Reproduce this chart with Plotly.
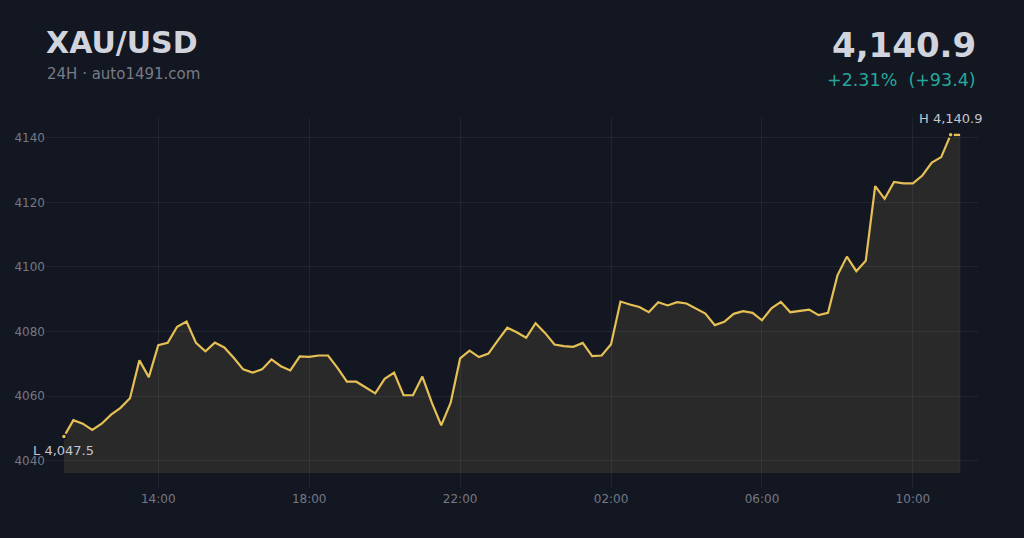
import pandas as pd
import plotly.graph_objects as go

# ---- data ----
SYMBOL = "XAU/USD"
SUBTITLE = "24H \u00b7 auto1491.com"
START_TIME = "2025-10-20 11:30"
STEP = "15min"
PRICES = [
    4047.5, 4052.6, 4051.5, 4049.6, 4051.5, 4054.3, 4056.4, 4059.4, 4071.1, 4065.9,
    4075.8, 4076.5, 4081.5, 4083.1, 4076.5, 4073.9, 4076.6, 4075.1, 4071.9, 4068.3,
    4067.3, 4068.3, 4071.4, 4069.3, 4068.0, 4072.3, 4072.2, 4072.6, 4072.6, 4068.8,
    4064.5, 4064.5, 4062.7, 4060.9, 4065.4, 4067.3, 4060.3, 4060.3, 4066.1, 4058.0,
    4051.0, 4058.0, 4071.7, 4074.1, 4072.1, 4073.2, 4077.3, 4081.2, 4079.8, 4078.1,
    4082.6, 4079.6, 4076.0, 4075.5, 4075.3, 4076.5, 4072.4, 4072.6, 4076.1, 4089.3,
    4088.4, 4087.6, 4086.0, 4089.1, 4088.1, 4089.1, 4088.7, 4087.2, 4085.6, 4082.0,
    4083.0, 4085.5, 4086.3, 4085.8, 4083.5, 4087.2, 4089.2, 4086.0, 4086.3, 4086.8,
    4085.1, 4085.8, 4097.4, 4103.2, 4098.7, 4101.9, 4125.0, 4121.1, 4126.3, 4125.9,
    4125.9, 4128.3, 4132.3, 4134.0, 4140.9, 4140.9,
]
FILL_BASE = 4036.3
Y_RANGE = [4031.6, 4146.1]
Y_TICKS = [4040, 4060, 4080, 4100, 4120, 4140]

# ---- derived ----
times = pd.date_range(START_TIME, periods=len(PRICES), freq=STEP)
last = PRICES[-1]
first = PRICES[0]
chg = last - first
pct = chg / first * 100
lo_i = min(range(len(PRICES)), key=lambda i: PRICES[i])
hi_i = max(range(len(PRICES)), key=lambda i: PRICES[i])
span = times[-1] - times[0]
x_range = [times[0] - span * 0.02, times[-1] + span * 0.02]

BG = "#131722"
GOLD = "#e6bf55"
TEXT = "#d1d4dc"
MUTED = "#787b86"
TEAL = "#26a69a"
FONT = "DejaVu Sans"

fig = go.Figure()

# area fill
fig.add_trace(go.Scatter(
    x=list(times) + [times[-1], times[0]],
    y=PRICES + [FILL_BASE, FILL_BASE],
    fill="toself",
    fillcolor="rgba(239,203,104,0.10)",
    line=dict(color="rgba(255,255,255,0.05)", width=1),
    mode="lines",
    hoverinfo="skip",
    showlegend=False,
))

# price line
fig.add_trace(go.Scatter(
    x=times, y=PRICES, mode="lines",
    line=dict(color=GOLD, width=2.2),
    hoverinfo="skip", showlegend=False,
))

# low / high markers
fig.add_trace(go.Scatter(
    x=[times[lo_i], times[hi_i]], y=[PRICES[lo_i], PRICES[hi_i]],
    mode="markers",
    marker=dict(color=GOLD, size=5, line=dict(color=BG, width=1.5)),
    hoverinfo="skip", showlegend=False,
))

ann = [
    dict(text=f"<b>{SYMBOL}</b>", x=0, y=1.205, xref="paper", yref="paper",
         xanchor="left", yanchor="middle", showarrow=False, xshift=-2,
         font=dict(family=FONT, size=30, color=TEXT)),
    dict(text=SUBTITLE, x=0, y=1.12, xref="paper", yref="paper",
         xanchor="left", yanchor="middle", showarrow=False, xshift=-1,
         font=dict(family=FONT, size=15, color=MUTED)),
    dict(text=f"<b>{last:,.1f}</b>", x=1, y=1.197, xref="paper", yref="paper",
         xanchor="right", yanchor="middle", showarrow=False,
         font=dict(family=FONT, size=34, color=TEXT)),
    dict(text=f"+{pct:.2f}%\u00a0\u00a0(+{chg:.1f})", x=1, y=1.104, xref="paper", yref="paper",
         xanchor="right", yanchor="middle", showarrow=False,
         font=dict(family=FONT, size=17.5, color=TEAL)),
    dict(text=f"L {PRICES[lo_i]:,.1f}", x=times[lo_i], y=PRICES[lo_i],
         xref="x", yref="y", showarrow=False, yshift=-14,
         xanchor="center", yanchor="middle",
         font=dict(family=FONT, size=13, color="#c3c6ce")),
    dict(text=f"H {PRICES[hi_i]:,.1f}", x=times[hi_i], y=PRICES[hi_i],
         xref="x", yref="y", showarrow=False, yshift=16,
         xanchor="center", yanchor="middle",
         font=dict(family=FONT, size=13, color="#c3c6ce")),
]

fig.update_layout(
    width=1024, height=538,
    paper_bgcolor=BG, plot_bgcolor=BG,
    margin=dict(l=46, r=46, t=118, b=50),
    annotations=ann,
    font=dict(family=FONT, color=MUTED, size=12),
    xaxis=dict(
        type="date", range=x_range,
        tick0="2000-01-01 02:00", dtick=4 * 3600 * 1000,
        tickformat="%H:%M",
        showgrid=True, gridcolor="rgba(255,255,255,0.06)", gridwidth=1,
        zeroline=False, showline=False, ticks="",
        ticklabelstandoff=2,
        tickfont=dict(family=FONT, size=12, color="#757882"),
    ),
    yaxis=dict(
        range=Y_RANGE, tickvals=Y_TICKS,
        showgrid=True, gridcolor="rgba(255,255,255,0.06)", gridwidth=1,
        zeroline=False, showline=False, ticks="",
        tickfont=dict(family=FONT, size=12, color="#757882"),
    ),
)

fig.write_html(
    "out.html",
    config={"displayModeBar": False},
    post_script="document.body.style.margin='0';document.body.style.background='#131722';",
)
